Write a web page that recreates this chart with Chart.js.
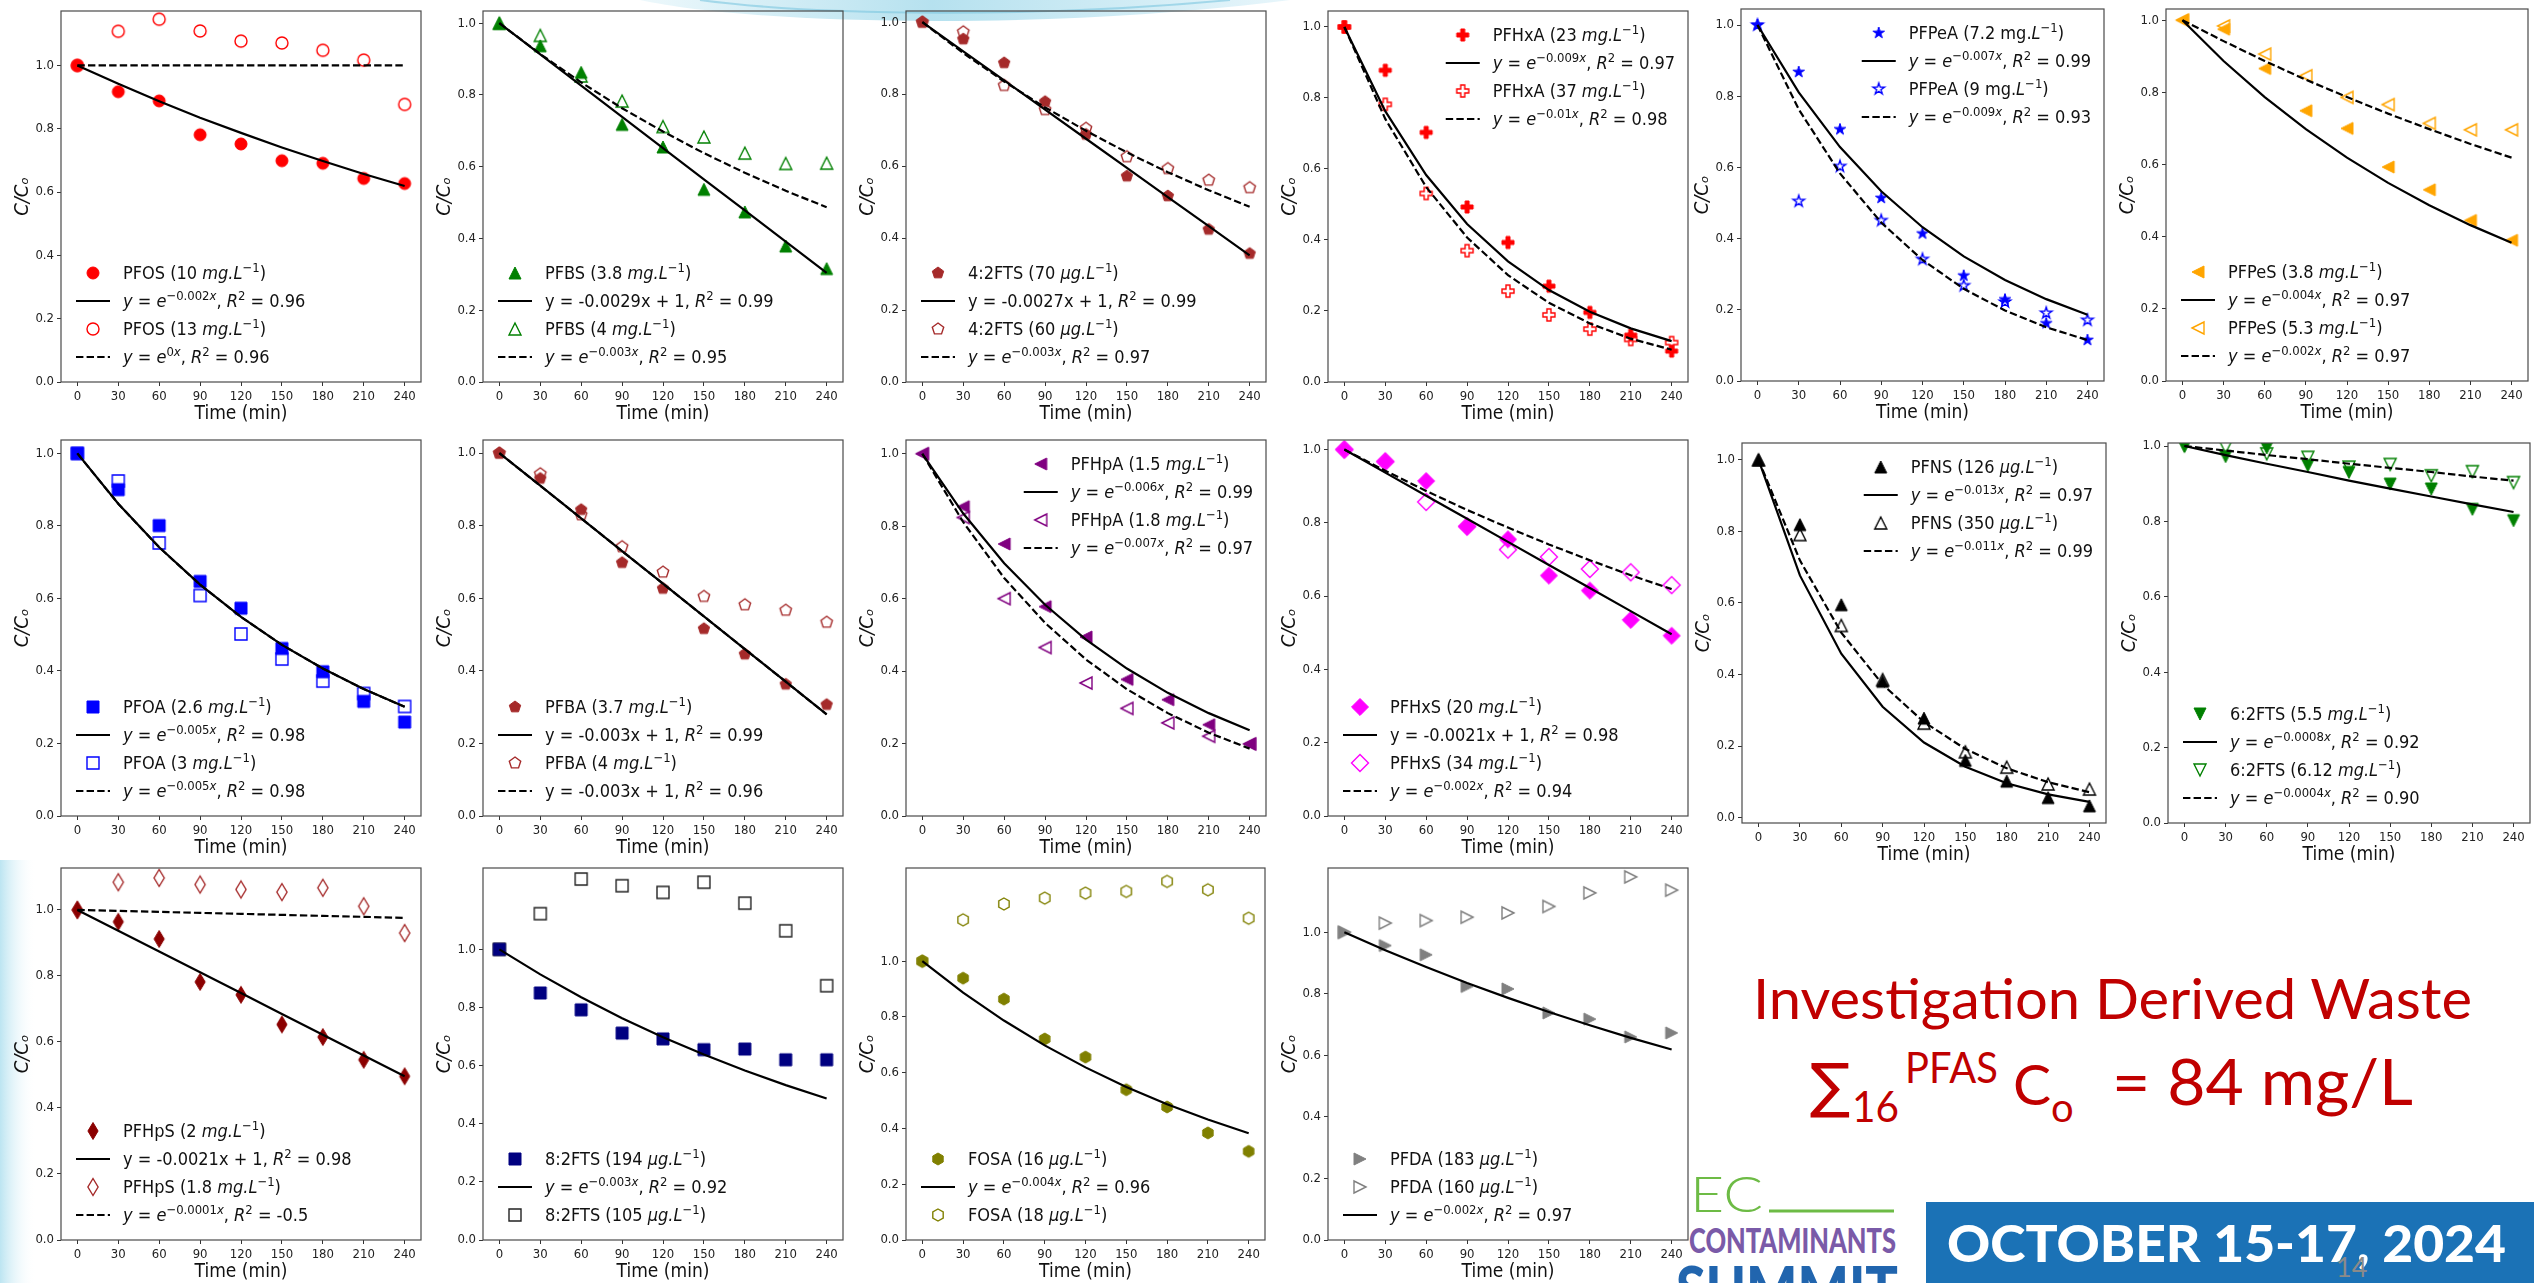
<!DOCTYPE html>
<html>
<head>
<meta charset="utf-8">
<script src="https://cdn.jsdelivr.net/npm/chart.js@4.4.1/dist/chart.umd.min.js"></script>
<style>
  html, body { margin: 0; padding: 0; background: #fff; }
  body { position: relative; width: 2534px; height: 1283px; overflow: hidden; }
  #slide { position: absolute; left: 0; top: 0; z-index: 0; }
  canvas.panel { position: absolute; z-index: 1; }
</style>
</head>
<body>
<svg id="slide" width="2534" height="1283">
  <defs>
    <linearGradient id="swirl" x1="0" x2="1" y1="0" y2="0">
      <stop offset="0" stop-color="#eaf7fb"/>
      <stop offset="0.45" stop-color="#a9dcec"/>
      <stop offset="1" stop-color="#e3f4fa"/>
    </linearGradient>
    <linearGradient id="edge" x1="0" x2="1" y1="0" y2="0">
      <stop offset="0" stop-color="#a6dced"/>
      <stop offset="1" stop-color="#ffffff" stop-opacity="0"/>
    </linearGradient>
  </defs>
  <path d="M640,0 C760,26 1060,30 1290,0 Z" fill="url(#swirl)" opacity="0.85"/>
  <path d="M700,0 C820,16 1040,18 1230,0" fill="none" stroke="#7cc6df" stroke-width="2" opacity="0.6"/>
  <rect x="0" y="860" width="36" height="423" fill="url(#edge)" opacity="0.75"/>

  <text x="1753" y="1019" font-family="Lato, 'Open Sans', sans-serif" font-size="56" fill="#c00000"
        textLength="719" lengthAdjust="spacingAndGlyphs">Investigation Derived Waste</text>
  <text x="1810" y="1106" font-family="'DejaVu Sans', sans-serif" font-size="60" fill="#c00000">∑</text>
  <text x="1852" y="1122" font-family="Lato, sans-serif" font-size="42" fill="#c00000"
        textLength="47" lengthAdjust="spacingAndGlyphs">16</text>
  <text x="1905" y="1083" font-family="Lato, sans-serif" font-size="42" fill="#c00000"
        textLength="93" lengthAdjust="spacingAndGlyphs">PFAS</text>
  <text x="2013" y="1105" font-family="Lato, sans-serif" font-size="57" fill="#c00000">C</text>
  <text x="2051" y="1122" font-family="Lato, sans-serif" font-size="40" fill="#c00000">o</text>
  <text x="2112" y="1105" font-family="Lato, sans-serif" font-size="63" fill="#c00000"
        textLength="301" lengthAdjust="spacingAndGlyphs">= 84 mg/L</text>

  <text x="1690" y="1212" font-family="Lato, sans-serif" font-weight="300" font-size="49" fill="#6dbb45"
        textLength="73" lengthAdjust="spacingAndGlyphs">EC</text>
  <line x1="1769" y1="1211" x2="1894" y2="1211" stroke="#6dbb45" stroke-width="3"/>
  <text x="1689" y="1253" font-family="Lato, sans-serif" font-weight="900" font-size="35" fill="#7a5aa8"
        textLength="207" lengthAdjust="spacingAndGlyphs">CONTAMINANTS</text>
  <text x="1676" y="1313" font-family="Lato, sans-serif" font-weight="900" font-size="64" fill="#2165ae"
        textLength="222" lengthAdjust="spacingAndGlyphs">SUMMIT</text>

  <rect x="1926" y="1202" width="608" height="81" fill="#1b72b6"/>
  <text x="1947" y="1262" font-family="Lato, sans-serif" font-weight="900" font-size="52" fill="#ffffff"
        textLength="559" lengthAdjust="spacingAndGlyphs">OCTOBER 15-17, 2024</text>
  <text x="2336" y="1277" font-family="Lato, sans-serif" font-size="27" fill="#8a8a8a">14</text>
</svg>

<script>
// sampling times (min) and axis ticks
const times = [0, 30, 60, 90, 120, 150, 180, 210, 240];
const xTicks = [0, 30, 60, 90, 120, 150, 180, 210, 240];
const yTicks = [0.0, 0.2, 0.4, 0.6, 0.8, 1.0];

// measured C/Co, one array per run
const pfos10 = [1.0, 0.917, 0.888, 0.781, 0.752, 0.699, 0.691, 0.643, 0.627];
const pfos13 = [1.0, 1.108, 1.146, 1.109, 1.077, 1.071, 1.048, 1.017, 0.877];
const pfbs38 = [1.0, 0.937, 0.863, 0.718, 0.655, 0.537, 0.474, 0.379, 0.316];
const pfbs4 = [1.0, 0.966, 0.853, 0.783, 0.712, 0.683, 0.638, 0.609, 0.610];
const fts42_70 = [1.0, 0.953, 0.887, 0.779, 0.688, 0.572, 0.517, 0.424, 0.357];
const fts42_60 = [1.0, 0.973, 0.824, 0.757, 0.705, 0.626, 0.593, 0.561, 0.540];
const pfhxa23 = [1.0, 0.878, 0.703, 0.493, 0.393, 0.270, 0.196, 0.132, 0.087];
const pfhxa37 = [1.0, 0.782, 0.531, 0.370, 0.256, 0.189, 0.149, 0.120, 0.111];
const pfpea72 = [1.0, 0.868, 0.707, 0.514, 0.414, 0.296, 0.229, 0.162, 0.115];
const pfpea9 = [1.0, 0.505, 0.603, 0.451, 0.342, 0.268, 0.222, 0.191, 0.171];
const pfpes38 = [1.0, 0.975, 0.866, 0.749, 0.700, 0.593, 0.530, 0.445, 0.390];
const pfpes53 = [1.0, 0.984, 0.906, 0.846, 0.786, 0.766, 0.714, 0.696, 0.696];
const pfoa26 = [1.0, 0.900, 0.801, 0.647, 0.573, 0.462, 0.398, 0.316, 0.259];
const pfoa3 = [1.0, 0.924, 0.753, 0.608, 0.502, 0.433, 0.372, 0.338, 0.302];
const pfba37 = [1.0, 0.930, 0.844, 0.698, 0.627, 0.516, 0.446, 0.363, 0.307];
const pfba4 = [1.0, 0.943, 0.830, 0.742, 0.672, 0.605, 0.582, 0.567, 0.534];
const pfhpa15 = [1.0, 0.854, 0.751, 0.578, 0.494, 0.377, 0.321, 0.252, 0.199];
const pfhpa18 = [1.0, 0.824, 0.600, 0.465, 0.367, 0.297, 0.257, 0.220, 0.199];
const pfhxs20 = [1.0, 0.967, 0.914, 0.790, 0.755, 0.656, 0.615, 0.535, 0.492];
const pfhxs34 = [1.0, 0.967, 0.857, 0.790, 0.727, 0.707, 0.674, 0.665, 0.630];
const pfns126 = [1.0, 0.819, 0.595, 0.381, 0.278, 0.160, 0.102, 0.056, 0.033];
const pfns350 = [1.0, 0.791, 0.537, 0.386, 0.264, 0.184, 0.141, 0.094, 0.080];
const fts62_55 = [1.0, 0.972, 0.995, 0.948, 0.930, 0.899, 0.886, 0.832, 0.802];
const fts62_612 = [1.0, 0.997, 0.979, 0.970, 0.944, 0.951, 0.921, 0.932, 0.903];
const pfhps2 = [1.0, 0.964, 0.912, 0.782, 0.743, 0.653, 0.615, 0.546, 0.496];
const pfhps18 = [1.0, 1.084, 1.097, 1.077, 1.062, 1.054, 1.067, 1.011, 0.930];
const fts82_194 = [1.0, 0.850, 0.792, 0.712, 0.692, 0.655, 0.657, 0.620, 0.620];
const fts82_105 = [1.0, 1.123, 1.242, 1.219, 1.196, 1.231, 1.159, 1.064, 0.875];
const fosa16 = [1.0, 0.939, 0.864, 0.721, 0.656, 0.539, 0.477, 0.384, 0.318];
const fosa18 = [1.0, 1.148, 1.205, 1.226, 1.244, 1.250, 1.286, 1.256, 1.154];
const pfda183 = [1.0, 0.957, 0.927, 0.824, 0.816, 0.738, 0.718, 0.660, 0.673];
const pfda160 = [1.0, 1.030, 1.038, 1.049, 1.063, 1.084, 1.128, 1.180, 1.137];

// fitted curves at the same times
const fitFlat = [1, 1, 1, 1, 1, 1, 1, 1, 1];
const fitExp0001 = [1, 0.997, 0.994, 0.991, 0.988, 0.985, 0.982, 0.979, 0.976];
const fitExp0004 = [1, 0.988, 0.976, 0.965, 0.953, 0.942, 0.931, 0.919, 0.908];
const fitExp0008 = [1, 0.976, 0.953, 0.931, 0.908, 0.887, 0.866, 0.845, 0.825];
const fitExp002 = [1, 0.942, 0.887, 0.835, 0.787, 0.741, 0.698, 0.657, 0.619];
const fitExp003 = [1, 0.914, 0.835, 0.763, 0.698, 0.638, 0.583, 0.533, 0.487];
const fitExp004 = [1, 0.887, 0.787, 0.698, 0.619, 0.549, 0.487, 0.432, 0.383];
const fitExp005 = [1, 0.861, 0.741, 0.638, 0.549, 0.472, 0.407, 0.350, 0.301];
const fitExp006 = [1, 0.835, 0.698, 0.583, 0.487, 0.407, 0.340, 0.284, 0.237];
const fitExp007 = [1, 0.811, 0.657, 0.533, 0.432, 0.350, 0.284, 0.230, 0.186];
const fitExp009 = [1, 0.763, 0.583, 0.445, 0.340, 0.259, 0.198, 0.151, 0.115];
const fitExp010 = [1, 0.741, 0.549, 0.407, 0.301, 0.223, 0.165, 0.122, 0.091];
const fitExp011 = [1, 0.719, 0.517, 0.372, 0.267, 0.192, 0.138, 0.099, 0.071];
const fitExp013 = [1, 0.677, 0.458, 0.310, 0.210, 0.142, 0.096, 0.065, 0.044];
const fitLin0021 = [1, 0.937, 0.874, 0.811, 0.748, 0.685, 0.622, 0.559, 0.496];
const fitLin0027 = [1, 0.919, 0.838, 0.757, 0.676, 0.595, 0.514, 0.433, 0.352];
const fitLin0029 = [1, 0.913, 0.826, 0.739, 0.652, 0.565, 0.478, 0.391, 0.304];
const fitLin003 = [1, 0.910, 0.820, 0.730, 0.640, 0.550, 0.460, 0.370, 0.280];

const FONT = "'DejaVu Sans Condensed', 'DejaVu Sans', sans-serif";
const YW = 56, PT = 12, PR = 10, XH = 52;   // axis gutters around each plot area
const MS = 12;                              // marker size
const LW = 2.2;                             // fit line width
const DASH = [7.4, 3.2];
const LEG_SIZE = 18;

Chart.defaults.font.family = FONT;
Chart.defaults.color = '#222';

function poly(g, pts) {
  g.moveTo(pts[0][0], pts[0][1]);
  for (let i = 1; i < pts.length; i++) g.lineTo(pts[i][0], pts[i][1]);
}

function regular(n, r, inner) {
  const pts = [];
  const step = Math.PI / n;
  for (let k = 0; k < 2 * n; k++) {
    if (inner === undefined && k % 2) continue;
    const rad = k % 2 ? inner : r;
    const ang = -Math.PI / 2 + k * step;
    pts.push([rad * Math.cos(ang), rad * Math.sin(ang)]);
  }
  return pts;
}

// marker sprites in the matplotlib shapes, used as pointStyle
function markerImage(shape, color, filled) {
  const S = 24, c = document.createElement('canvas');
  c.width = c.height = S;
  const g = c.getContext('2d');
  g.translate(S / 2, S / 2);
  const r = MS / 2, d = MS * 0.7071;
  g.beginPath();
  switch (shape) {
    case 'o': g.arc(0, 0, r, 0, Math.PI * 2); break;
    case 's': g.rect(-r, -r, MS, MS); break;
    case 'D': poly(g, [[0, -d], [d, 0], [0, d], [-d, 0]]); break;
    case 'd': poly(g, [[0, -d], [d * 0.6, 0], [0, d], [-d * 0.6, 0]]); break;
    case '^': poly(g, [[0, -r], [r, r], [-r, r]]); break;
    case 'v': poly(g, [[0, r], [r, -r], [-r, -r]]); break;
    case '<': poly(g, [[-r, 0], [r, -r], [r, r]]); break;
    case '>': poly(g, [[r, 0], [-r, -r], [-r, r]]); break;
    case 'p': poly(g, regular(5, r)); break;
    case 'h': poly(g, regular(6, r)); break;
    case '*': poly(g, regular(5, r, r * 0.382)); break;
    case 'P': {
      const u = MS / 6;
      poly(g, [[-u, -3 * u], [u, -3 * u], [u, -u], [3 * u, -u], [3 * u, u], [u, u], [u, 3 * u],
               [-u, 3 * u], [-u, u], [-3 * u, u], [-3 * u, -u], [-u, -u]]);
      break;
    }
  }
  g.closePath();
  if (filled) { g.fillStyle = color; g.fill(); }
  g.lineJoin = 'miter';
  g.strokeStyle = color;
  g.lineWidth = filled ? 1 : 1.4;
  g.stroke();
  return c;
}

// tiny markup: *...* italic, ^{...} superscript
function richRuns(s) {
  const runs = [];
  let it = false, sup = false, buf = '';
  const push = () => { if (buf) runs.push({ t: buf, i: it, s: sup }); buf = ''; };
  for (let k = 0; k < s.length; k++) {
    const ch = s[k];
    if (ch === '*') { push(); it = !it; }
    else if (ch === '^' && s[k + 1] === '{') { push(); sup = true; k++; }
    else if (ch === '}' && sup) { push(); sup = false; }
    else buf += ch;
  }
  push();
  return runs;
}

function runFont(r, size) {
  return (r.i ? 'italic ' : '') + (r.s ? size * 0.72 : size) + 'px ' + FONT;
}

function measureRich(ctx, runs, size) {
  let w = 0;
  runs.forEach(r => { ctx.font = runFont(r, size); w += ctx.measureText(r.t).width; });
  return w;
}

function drawRich(ctx, runs, x, y, size) {
  runs.forEach(r => {
    ctx.font = runFont(r, size);
    ctx.fillText(r.t, x, r.s ? y - size * 0.42 : y);
    x += ctx.measureText(r.t).width;
  });
}

const framePlugin = {
  id: 'frame',
  afterDatasetsDraw(chart) {
    const a = chart.chartArea, ctx = chart.ctx;
    ctx.save();
    ctx.strokeStyle = '#4a4a4a';
    ctx.lineWidth = 1.2;
    ctx.strokeRect(a.left, a.top, a.right - a.left, a.bottom - a.top);
    ctx.restore();
  }
};

function legendPlugin(p) {
  return {
    id: 'richLegend',
    afterDraw(chart) {
      const a = chart.chartArea, ctx = chart.ctx, n = p.series.length;
      const runs = p.series.map(s => richRuns(s.label));
      ctx.save();
      ctx.textBaseline = 'alphabetic';
      ctx.fillStyle = '#111';
      let x0 = a.left + 15;
      if (p.legend === 'ur') {
        const wmax = Math.max(...runs.map(r => measureRich(ctx, r, LEG_SIZE)));
        x0 = a.right - 13 - 47 - wmax;
      }
      p.series.forEach((s, i) => {
        const y = p.legend === 'ur' ? a.top + 24 + 28 * i : a.bottom - 25 - 28 * (n - 1 - i);
        if (s.line) {
          ctx.beginPath();
          ctx.setLineDash(s.line === 'dashed' ? DASH : []);
          ctx.strokeStyle = '#000';
          ctx.lineWidth = LW;
          ctx.moveTo(x0, y);
          ctx.lineTo(x0 + 34, y);
          ctx.stroke();
          ctx.setLineDash([]);
        } else {
          ctx.drawImage(s.img, x0 + 17 - s.img.width / 2, y - s.img.height / 2);
        }
        drawRich(ctx, runs[i], x0 + 47, y + LEG_SIZE * 0.36, LEG_SIZE);
      });
      ctx.restore();
    }
  };
}

const panels = [
  { box: [61, 11, 421, 382], yMin: 0, yMax: 1.172, legend: 'll', series: [
    { values: pfos10, marker: 'o', color: '#ff0000', filled: true, label: 'PFOS (10 *mg.L*^{−1})' },
    { values: fitExp002, line: 'solid', label: '*y* = *e*^{−0.002*x*}, *R*^{2} = 0.96' },
    { values: pfos13, marker: 'o', color: '#ff0000', filled: false, label: 'PFOS (13 *mg.L*^{−1})' },
    { values: fitFlat, line: 'dashed', label: '*y* = *e*^{0*x*}, *R*^{2} = 0.96' } ] },
  { box: [483, 11, 843, 382], yMin: 0, yMax: 1.034, legend: 'll', series: [
    { values: pfbs38, marker: '^', color: '#008000', filled: true, label: 'PFBS (3.8 *mg.L*^{−1})' },
    { values: fitLin0029, line: 'solid', label: 'y = -0.0029x + 1, *R*^{2} = 0.99' },
    { values: pfbs4, marker: '^', color: '#008000', filled: false, label: 'PFBS (4 *mg.L*^{−1})' },
    { values: fitExp003, line: 'dashed', label: '*y* = *e*^{−0.003*x*}, *R*^{2} = 0.95' } ] },
  { box: [906, 11, 1266, 382], yMin: 0, yMax: 1.031, legend: 'll', series: [
    { values: fts42_70, marker: 'p', color: '#a52a2a', filled: true, label: '4:2FTS (70 *μg.L*^{−1})' },
    { values: fitLin0027, line: 'solid', label: 'y = -0.0027x + 1, *R*^{2} = 0.99' },
    { values: fts42_60, marker: 'p', color: '#a52a2a', filled: false, label: '4:2FTS (60 *μg.L*^{−1})' },
    { values: fitExp003, line: 'dashed', label: '*y* = *e*^{−0.003*x*}, *R*^{2} = 0.97' } ] },
  { box: [1328, 11, 1688, 382], yMin: 0, yMax: 1.045, legend: 'ur', series: [
    { values: pfhxa23, marker: 'P', color: '#ff0000', filled: true, label: 'PFHxA (23 *mg.L*^{−1})' },
    { values: fitExp009, line: 'solid', label: '*y* = *e*^{−0.009*x*}, *R*^{2} = 0.97' },
    { values: pfhxa37, marker: 'P', color: '#ff0000', filled: false, label: 'PFHxA (37 *mg.L*^{−1})' },
    { values: fitExp010, line: 'dashed', label: '*y* = *e*^{−0.01*x*}, *R*^{2} = 0.98' } ] },
  { box: [1741, 9, 2104, 381], yMin: 0, yMax: 1.045, legend: 'ur', series: [
    { values: pfpea72, marker: '*', color: '#0000ff', filled: true, label: 'PFPeA (7.2 mg.*L*^{−1})' },
    { values: fitExp007, line: 'solid', label: '*y* = *e*^{−0.007*x*}, *R*^{2} = 0.99' },
    { values: pfpea9, marker: '*', color: '#0000ff', filled: false, label: 'PFPeA (9 mg.*L*^{−1})' },
    { values: fitExp009, line: 'dashed', label: '*y* = *e*^{−0.009*x*}, *R*^{2} = 0.93' } ] },
  { box: [2166, 9, 2528, 381], yMin: 0, yMax: 1.031, legend: 'll', series: [
    { values: pfpes38, marker: '<', color: '#ffa500', filled: true, label: 'PFPeS (3.8 *mg.L*^{−1})' },
    { values: fitExp004, line: 'solid', label: '*y* = *e*^{−0.004*x*}, *R*^{2} = 0.97' },
    { values: pfpes53, marker: '<', color: '#ffa500', filled: false, label: 'PFPeS (5.3 *mg.L*^{−1})' },
    { values: fitExp002, line: 'dashed', label: '*y* = *e*^{−0.002*x*}, *R*^{2} = 0.97' } ] },

  { box: [61, 440, 421, 816], yMin: 0, yMax: 1.037, legend: 'll', series: [
    { values: pfoa26, marker: 's', color: '#0000ff', filled: true, label: 'PFOA (2.6 *mg.L*^{−1})' },
    { values: fitExp005, line: 'solid', label: '*y* = *e*^{−0.005*x*}, *R*^{2} = 0.98' },
    { values: pfoa3, marker: 's', color: '#0000ff', filled: false, label: 'PFOA (3 *mg.L*^{−1})' },
    { values: fitExp005, line: 'dashed', label: '*y* = *e*^{−0.005*x*}, *R*^{2} = 0.98' } ] },
  { box: [483, 440, 843, 816], yMin: 0, yMax: 1.036, legend: 'll', series: [
    { values: pfba37, marker: 'p', color: '#a52a2a', filled: true, label: 'PFBA (3.7 *mg.L*^{−1})' },
    { values: fitLin003, line: 'solid', label: 'y = -0.003x + 1, *R*^{2} = 0.99' },
    { values: pfba4, marker: 'p', color: '#a52a2a', filled: false, label: 'PFBA (4 *mg.L*^{−1})' },
    { values: fitLin003, line: 'dashed', label: 'y = -0.003x + 1, *R*^{2} = 0.96' } ] },
  { box: [906, 440, 1266, 816], yMin: 0, yMax: 1.038, legend: 'ur', series: [
    { values: pfhpa15, marker: '<', color: '#800080', filled: true, label: 'PFHpA (1.5 *mg.L*^{−1})' },
    { values: fitExp006, line: 'solid', label: '*y* = *e*^{−0.006*x*}, *R*^{2} = 0.99' },
    { values: pfhpa18, marker: '<', color: '#800080', filled: false, label: 'PFHpA (1.8 *mg.L*^{−1})' },
    { values: fitExp007, line: 'dashed', label: '*y* = *e*^{−0.007*x*}, *R*^{2} = 0.97' } ] },
  { box: [1328, 440, 1688, 816], yMin: 0, yMax: 1.026, legend: 'll', series: [
    { values: pfhxs20, marker: 'D', color: '#ff00ff', filled: true, label: 'PFHxS (20 *mg.L*^{−1})' },
    { values: fitLin0021, line: 'solid', label: 'y = -0.0021x + 1, *R*^{2} = 0.98' },
    { values: pfhxs34, marker: 'D', color: '#ff00ff', filled: false, label: 'PFHxS (34 *mg.L*^{−1})' },
    { values: fitExp002, line: 'dashed', label: '*y* = *e*^{−0.002*x*}, *R*^{2} = 0.94' } ] },
  { box: [1742, 443, 2106, 823], yMin: -0.015, yMax: 1.047, legend: 'ur', series: [
    { values: pfns126, marker: '^', color: '#000000', filled: true, label: 'PFNS (126 *μg.L*^{−1})' },
    { values: fitExp013, line: 'solid', label: '*y* = *e*^{−0.013*x*}, *R*^{2} = 0.97' },
    { values: pfns350, marker: '^', color: '#000000', filled: false, label: 'PFNS (350 *μg.L*^{−1})' },
    { values: fitExp011, line: 'dashed', label: '*y* = *e*^{−0.011*x*}, *R*^{2} = 0.99' } ] },
  { box: [2168, 443, 2530, 823], yMin: 0, yMax: 1.008, legend: 'll', series: [
    { values: fts62_55, marker: 'v', color: '#008000', filled: true, label: '6:2FTS (5.5 *mg.L*^{−1})' },
    { values: fitExp0008, line: 'solid', label: '*y* = *e*^{−0.0008*x*}, *R*^{2} = 0.92' },
    { values: fts62_612, marker: 'v', color: '#008000', filled: false, label: '6:2FTS (6.12 *mg.L*^{−1})' },
    { values: fitExp0004, line: 'dashed', label: '*y* = *e*^{−0.0004*x*}, *R*^{2} = 0.90' } ] },

  { box: [61, 868, 421, 1240], yMin: 0, yMax: 1.127, legend: 'll', series: [
    { values: pfhps2, marker: 'd', color: '#8b0000', filled: true, label: 'PFHpS (2 *mg.L*^{−1})' },
    { values: fitLin0021, line: 'solid', label: 'y = -0.0021x + 1, *R*^{2} = 0.98' },
    { values: pfhps18, marker: 'd', color: '#a52a2a', filled: false, label: 'PFHpS (1.8 *mg.L*^{−1})' },
    { values: fitExp0001, line: 'dashed', label: '*y* = *e*^{−0.0001*x*}, *R*^{2} = -0.5' } ] },
  { box: [483, 868, 843, 1240], yMin: 0, yMax: 1.28, legend: 'll', series: [
    { values: fts82_194, marker: 's', color: '#000080', filled: true, label: '8:2FTS (194 *μg.L*^{−1})' },
    { values: fitExp003, line: 'solid', label: '*y* = *e*^{−0.003*x*}, *R*^{2} = 0.92' },
    { values: fts82_105, marker: 's', color: '#222222', filled: false, label: '8:2FTS (105 *μg.L*^{−1})' } ] },
  { box: [906, 868, 1265, 1240], yMin: 0, yMax: 1.334, legend: 'll', series: [
    { values: fosa16, marker: 'h', color: '#808000', filled: true, label: 'FOSA (16 *μg.L*^{−1})' },
    { values: fitExp004, line: 'solid', label: '*y* = *e*^{−0.004*x*}, *R*^{2} = 0.96' },
    { values: fosa18, marker: 'h', color: '#808000', filled: false, label: 'FOSA (18 *μg.L*^{−1})' } ] },
  { box: [1328, 868, 1688, 1240], yMin: 0, yMax: 1.209, legend: 'll', series: [
    { values: pfda183, marker: '>', color: '#808080', filled: true, label: 'PFDA (183 *μg.L*^{−1})' },
    { values: pfda160, marker: '>', color: '#808080', filled: false, label: 'PFDA (160 *μg.L*^{−1})' },
    { values: fitExp002, line: 'solid', label: '*y* = *e*^{−0.002*x*}, *R*^{2} = 0.97' } ] }
];

function axisGrid() {
  return { display: true, drawOnChartArea: false, drawTicks: true, tickLength: 4,
           color: '#333', tickColor: '#333', tickWidth: 1 };
}

function buildPanel(p) {
  const [L, T, R, B] = p.box;
  const c = document.createElement('canvas');
  c.className = 'panel';
  c.width = R - L + YW + PR;
  c.height = B - T + PT + XH;
  c.style.left = (L - YW) + 'px';
  c.style.top = (T - PT) + 'px';
  document.body.appendChild(c);

  p.series.forEach(s => { if (!s.line) s.img = markerImage(s.marker, s.color, s.filled); });

  const datasets = p.series.map(s => ({
    data: times.map((t, i) => ({ x: t, y: s.values[i] })),
    showLine: !!s.line,
    borderColor: '#000',
    borderWidth: LW,
    borderDash: s.line === 'dashed' ? DASH : [],
    pointStyle: s.line ? false : s.img,
    pointRadius: s.line ? 0 : 6,
    pointHoverRadius: 0,
    tension: 0,
    order: s.line ? 0 : 1
  }));

  new Chart(c, {
    type: 'scatter',
    data: { datasets },
    options: {
      responsive: false,
      animation: false,
      devicePixelRatio: 1,
      events: [],
      layout: { padding: { top: PT, right: PR, left: 0, bottom: 0 } },
      plugins: { legend: { display: false }, tooltip: { enabled: false } },
      scales: {
        x: {
          type: 'linear', min: -12, max: 252,
          afterBuildTicks: a => { a.ticks = xTicks.map(v => ({ value: v })); },
          afterFit: s => { s.height = XH; },
          ticks: { autoSkip: false, maxRotation: 0, padding: 3, font: { size: 13 }, color: '#222',
                   callback: v => String(v) },
          grid: axisGrid(),
          border: { display: false },
          title: { display: true, text: 'Time (min)', font: { size: 19 }, color: '#111',
                   padding: { top: 0, bottom: 9 } }
        },
        y: {
          type: 'linear', min: p.yMin, max: p.yMax,
          afterBuildTicks: a => { a.ticks = yTicks.map(v => ({ value: v })); },
          afterFit: s => { s.width = YW; },
          ticks: { autoSkip: false, padding: 3, font: { size: 13 }, color: '#222',
                   callback: v => v.toFixed(1) },
          grid: axisGrid(),
          border: { display: false },
          title: { display: true, text: 'C/Cₒ', font: { size: 20, style: 'italic' }, color: '#111',
                   padding: { top: 6, bottom: 0 } }
        }
      }
    },
    plugins: [framePlugin, legendPlugin(p)]
  });
}

panels.forEach(buildPanel);
</script>
</body>
</html>
